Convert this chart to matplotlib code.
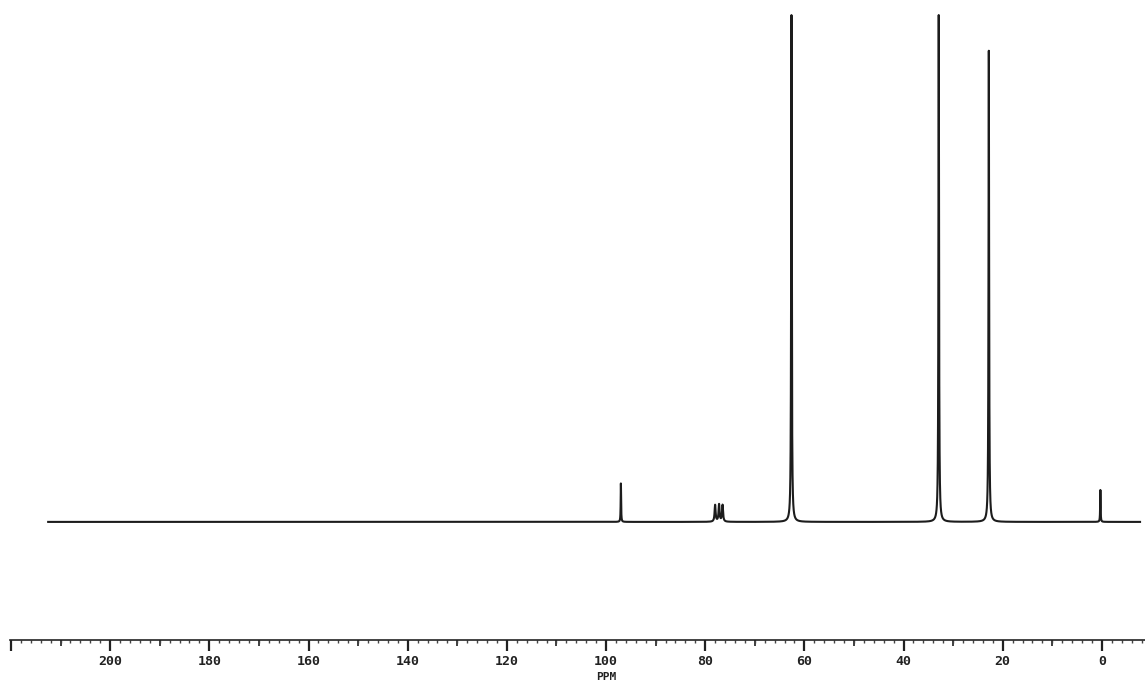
import numpy as np
import matplotlib
matplotlib.use("Agg")
import matplotlib.pyplot as plt
from matplotlib.ticker import FixedLocator, MultipleLocator, FuncFormatter

# ---- data ----
peak_ppm = [97.0, 78.0, 77.2, 76.5, 62.6, 32.9, 22.8, 0.3]
peak_height = [7.6, 3.3, 3.4, 3.3, 100.0, 100.0, 93.0, 6.3]
peak_hwhm = [0.05, 0.12, 0.12, 0.12, 0.07, 0.07, 0.07, 0.05]
major_ticks = [220, 200, 180, 160, 140, 120, 100, 80, 60, 40, 20, 0]
major_labels = ["", "200", "180", "160", "140", "120", "100", "80", "60", "40", "20", "0"]
mid_ticks = [210, 190, 170, 150, 130, 110, 90, 70, 50, 30, 10, -10]
spectrum_start, spectrum_end = 212.5, -7.7
axis_label = "PPM"

# ---- spectrum from the peak list ----
x = np.linspace(spectrum_start, spectrum_end, 40000)
y = np.zeros_like(x)
for c, h, w in zip(peak_ppm, peak_height, peak_hwhm):
    y += h * w**2 / ((x - c)**2 + w**2)

W, H = 1145, 683
fig = plt.figure(figsize=(W/100, H/100), dpi=100)
ax = fig.add_axes([10/W, 43/H, 1135/W, 630/H])
ax.plot(x, y, color="#1c1c1c", lw=1.5, solid_joinstyle="round")
ax.set_xlim(220.2, -8.7)
ax.set_ylim(-23.3, 101)

for s in ["top", "left", "right"]:
    ax.spines[s].set_visible(False)
ax.spines["bottom"].set_color("#222222")
ax.spines["bottom"].set_linewidth(1.2)
ax.set_yticks([])

ax.xaxis.set_major_locator(FixedLocator(major_ticks))
ax.xaxis.set_major_formatter(FuncFormatter(lambda v, p: major_labels[p] if p is not None and p < len(major_labels) else ""))
ax.xaxis.set_minor_locator(MultipleLocator(2))
ax.tick_params(axis="x", which="major", length=8, width=1.6, color="#222222",
               pad=3, labelsize=9.5, labelcolor="#222222")
ax.tick_params(axis="x", which="minor", length=2, width=1.0, color="#444444")
for lab in ax.get_xticklabels():
    lab.set_fontfamily("DejaVu Sans Mono")
    lab.set_fontweight("bold")

sec = ax.secondary_xaxis("bottom")
sec.spines["bottom"].set_visible(False)
sec.set_xticks(mid_ticks)
sec.set_xticklabels([""] * len(mid_ticks))
sec.tick_params(axis="x", which="major", length=4, width=1.3, color="#333333")
sec.xaxis.set_minor_locator(FixedLocator([]))

ax.text(100, -0.0585, axis_label, transform=ax.get_xaxis_transform(), ha="center", va="center",
        fontsize=8, fontweight="bold", family="DejaVu Sans Mono", color="#222222")

fig.savefig("out.png", dpi=100, facecolor="white")
